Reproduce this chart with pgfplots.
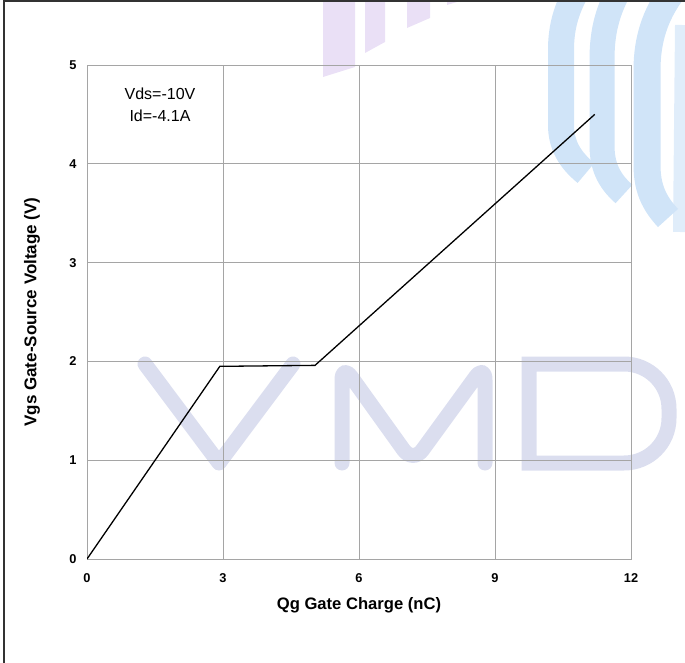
\documentclass[border=0pt]{standalone}
\usepackage{fontspec}
\setmainfont{Liberation Sans}
\usepackage{pgfplots}
\pgfplotsset{compat=1.18}
\definecolor{wm}{RGB}{219,222,239}
\definecolor{wmpurple}{RGB}{234,224,246}
\definecolor{wmblue}{RGB}{208,228,248}
\definecolor{wmbluel}{RGB}{224,237,250}
\definecolor{gridgray}{RGB}{165,165,165}
\begin{document}
\begin{tikzpicture}[x=0.5pt,y=-0.5pt]
\path[use as bounding box] (0,0) rectangle (685,663);
% watermark: purple strips
\fill[wmpurple] (323,0) -- (355,0) -- (355,67) -- (323,77) -- cycle;
\fill[wmpurple] (365,0) -- (385,0) -- (385,42) -- (365,53) -- cycle;
\fill[wmpurple] (407,0) -- (430,0) -- (430,18) -- (407,28) -- cycle;
\fill[wmpurple] (447,0) -- (457,0) -- (457,2) -- (447,5) -- cycle;
% watermark: blue bands
\draw[wmbluel, line width=7pt] (682,25) -- (680,232);
\draw[wmblue, line width=13pt] (576,-8) .. controls (565,12) and (561,30) .. (561,50) -- (561,125) .. controls (561,145) and (570,160) .. (586,173);
\draw[wmblue, line width=12.5pt] (618,-8) .. controls (606,15) and (602,35) .. (602,60) -- (602,145) .. controls (602,165) and (608,180) .. (624,194);
\draw[wmblue, line width=13.5pt] (672,-8) .. controls (655,15) and (647,40) .. (647,70) -- (647,165) .. controls (647,188) and (654,203) .. (668,218);
% watermark: VMD
\draw[wm, line width=7.5pt, line cap=round, line join=round] (145,364) -- (219,463) -- (293,364);
\draw[wm, line width=7.5pt, line cap=round, line join=round, rounded corners=8pt] (342,463) -- (342,364) -- (413,463) -- (485,364) -- (485,463);
\draw[wm, line width=7.5pt, line join=miter] (529,364) -- (624,364) .. controls (649,364) and (669,384) .. (669,409) -- (669,418) .. controls (669,443) and (649,463) .. (624,463) -- (529,463) -- cycle;
% frame
\draw[black!80, line width=1pt] (4,663) -- (4,1.5) -- (685,1.5);
\begin{axis}[
  at={(43.5pt,-279.5pt)}, anchor=south west,
  width=272pt, height=247pt, scale only axis,
  xmin=0, xmax=12, ymin=0, ymax=5,
  xtick={0,3,6,9,12}, ytick={0,1,2,3,4,5},
  grid=major, major grid style={gridgray, line width=0.5pt},
  axis line style={gridgray, line width=0.5pt},
  tick style={draw=none},
  /pgf/number format/assume math mode=true,
  ticklabel style={font=\fontsize{6.4}{7}\selectfont\bfseries},
  xticklabel style={anchor=center, yshift=-9.5pt},
  yticklabel style={anchor=center, xshift=-7pt},
  xlabel={Qg Gate Charge (nC)},
  xlabel style={at={(axis description cs:0.5,-0.0931)}, anchor=center, font=\fontsize{8.3}{10}\selectfont\bfseries},
  ylabel={Vgs Gate-Source Voltage (V)},
  ylabel style={at={(axis description cs:-0.101,0.5)}, anchor=center, font=\fontsize{8.5}{10}\selectfont\bfseries},
]
\addplot[black, line width=0.65pt, sharp plot] coordinates {(0,0) (2.93,1.95) (5.03,1.96) (11.2,4.5)};
\node[align=center, font=\fontsize{8}{11}\selectfont] at (axis cs:1.61,4.6) {Vds=-10V\\Id=-4.1A};
\end{axis}
\end{tikzpicture}
\end{document}
